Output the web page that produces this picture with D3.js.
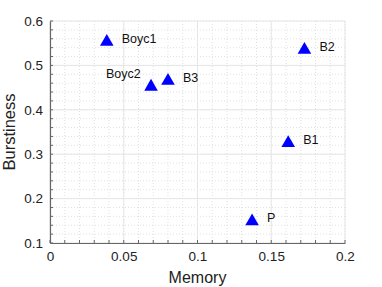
<!DOCTYPE html>
<html>
<head>
<meta charset="utf-8">
<script src="https://cdn.jsdelivr.net/npm/d3@7"></script>
<style>
  body { margin: 0; background: #fff; }
  text { font-family: "Liberation Sans", Arial, sans-serif; }
</style>
</head>
<body>
<div id="chart"></div>
<script>
// chart values
const names = ['Boyc1', 'Boyc2', 'B3', 'B2', 'B1', 'P'];
const memory = [0.0385, 0.0685, 0.080, 0.1725, 0.1615, 0.137];
const burstiness = [0.553, 0.452, 0.465, 0.535, 0.325, 0.149];
const xTicks = [0, 0.05, 0.1, 0.15, 0.2];
const yTicks = [0.1, 0.2, 0.3, 0.4, 0.5, 0.6];

const width = 382, height = 287;
const margin = { top: 21, right: 37, bottom: 44, left: 50 };
const w = width - margin.left - margin.right;
const h = height - margin.top - margin.bottom;

const svg = d3.select('#chart').append('svg')
    .attr('width', width)
    .attr('height', height);
const g = svg.append('g').attr('transform', `translate(${margin.left},${margin.top})`);

const x = d3.scaleLinear().domain([0, 0.2]).range([0, w]);
const y = d3.scaleLinear().domain([0.1, 0.6]).range([h, 0]);

// minor grid (dotted)
const xMinor = d3.range(0, 0.2001, 0.01);
const yMinor = d3.range(0.1, 0.6001, 0.02);
g.append('g').selectAll('line').data(xMinor).join('line')
    .attr('x1', d => x(d)).attr('x2', d => x(d))
    .attr('y1', 0).attr('y2', h)
    .attr('stroke', '#d9d9d9').attr('stroke-width', 0.8)
    .attr('stroke-dasharray', '1,2');
g.append('g').selectAll('line').data(yMinor).join('line')
    .attr('y1', d => y(d)).attr('y2', d => y(d))
    .attr('x1', 0).attr('x2', w)
    .attr('stroke', '#d9d9d9').attr('stroke-width', 0.8)
    .attr('stroke-dasharray', '1,2');

// major grid
g.append('g').selectAll('line').data(xTicks).join('line')
    .attr('x1', d => x(d)).attr('x2', d => x(d))
    .attr('y1', 0).attr('y2', h)
    .attr('stroke', '#e6e6e6').attr('stroke-width', 1);
g.append('g').selectAll('line').data(yTicks).join('line')
    .attr('y1', d => y(d)).attr('y2', d => y(d))
    .attr('x1', 0).attr('x2', w)
    .attr('stroke', '#e6e6e6').attr('stroke-width', 1);

// axes
const xAxis = g.append('g')
    .attr('transform', `translate(0,${h})`)
    .call(d3.axisBottom(x).tickValues(xTicks).tickFormat(d3.format('')).tickSize(0).tickPadding(8));
const yAxis = g.append('g')
    .call(d3.axisLeft(y).tickValues(yTicks).tickFormat(d3.format('')).tickSize(0).tickPadding(7));
[xAxis, yAxis].forEach(a => {
    a.select('.domain').attr('stroke', '#666').attr('stroke-width', 1.2);
    a.selectAll('text').attr('fill', '#222').style('font-size', '13.5px');
});

// inner tick marks
g.append('g').selectAll('line').data(xMinor).join('line')
    .attr('x1', d => x(d)).attr('x2', d => x(d))
    .attr('y1', h).attr('y2', h - 3)
    .attr('stroke', '#666');
g.append('g').selectAll('line').data(yMinor).join('line')
    .attr('y1', d => y(d)).attr('y2', d => y(d))
    .attr('x1', 0).attr('x2', 3)
    .attr('stroke', '#666');

// axis labels
g.append('text')
    .attr('x', w / 2).attr('y', h + 40)
    .attr('text-anchor', 'middle')
    .style('font-size', '16px').attr('fill', '#222')
    .text('Memory');
g.append('text')
    .attr('transform', `translate(${-35},${h / 2}) rotate(-90)`)
    .attr('text-anchor', 'middle')
    .style('font-size', '16.5px').attr('fill', '#222')
    .text('Burstiness');

// points
const pts = names.map((n, i) => ({ name: n, mx: memory[i], by: burstiness[i] }));
const tri = d3.symbol().type(d3.symbolTriangle).size(80);
g.append('g').selectAll('path').data(pts).join('path')
    .attr('d', tri)
    .attr('transform', d => `translate(${x(d.mx)},${y(d.by)})`)
    .attr('fill', '#0000ff');

// labels
g.append('g').selectAll('text').data(pts).join('text')
    .attr('x', d => d.name === 'Boyc2' ? x(d.mx) - 45 : x(d.mx) + 15)
    .attr('y', d => d.name === 'Boyc2' ? y(d.by) - 9 : y(d.by) + 1)
    .style('font-size', '12.5px').attr('fill', '#111')
    .text(d => d.name);
</script>
</body>
</html>
